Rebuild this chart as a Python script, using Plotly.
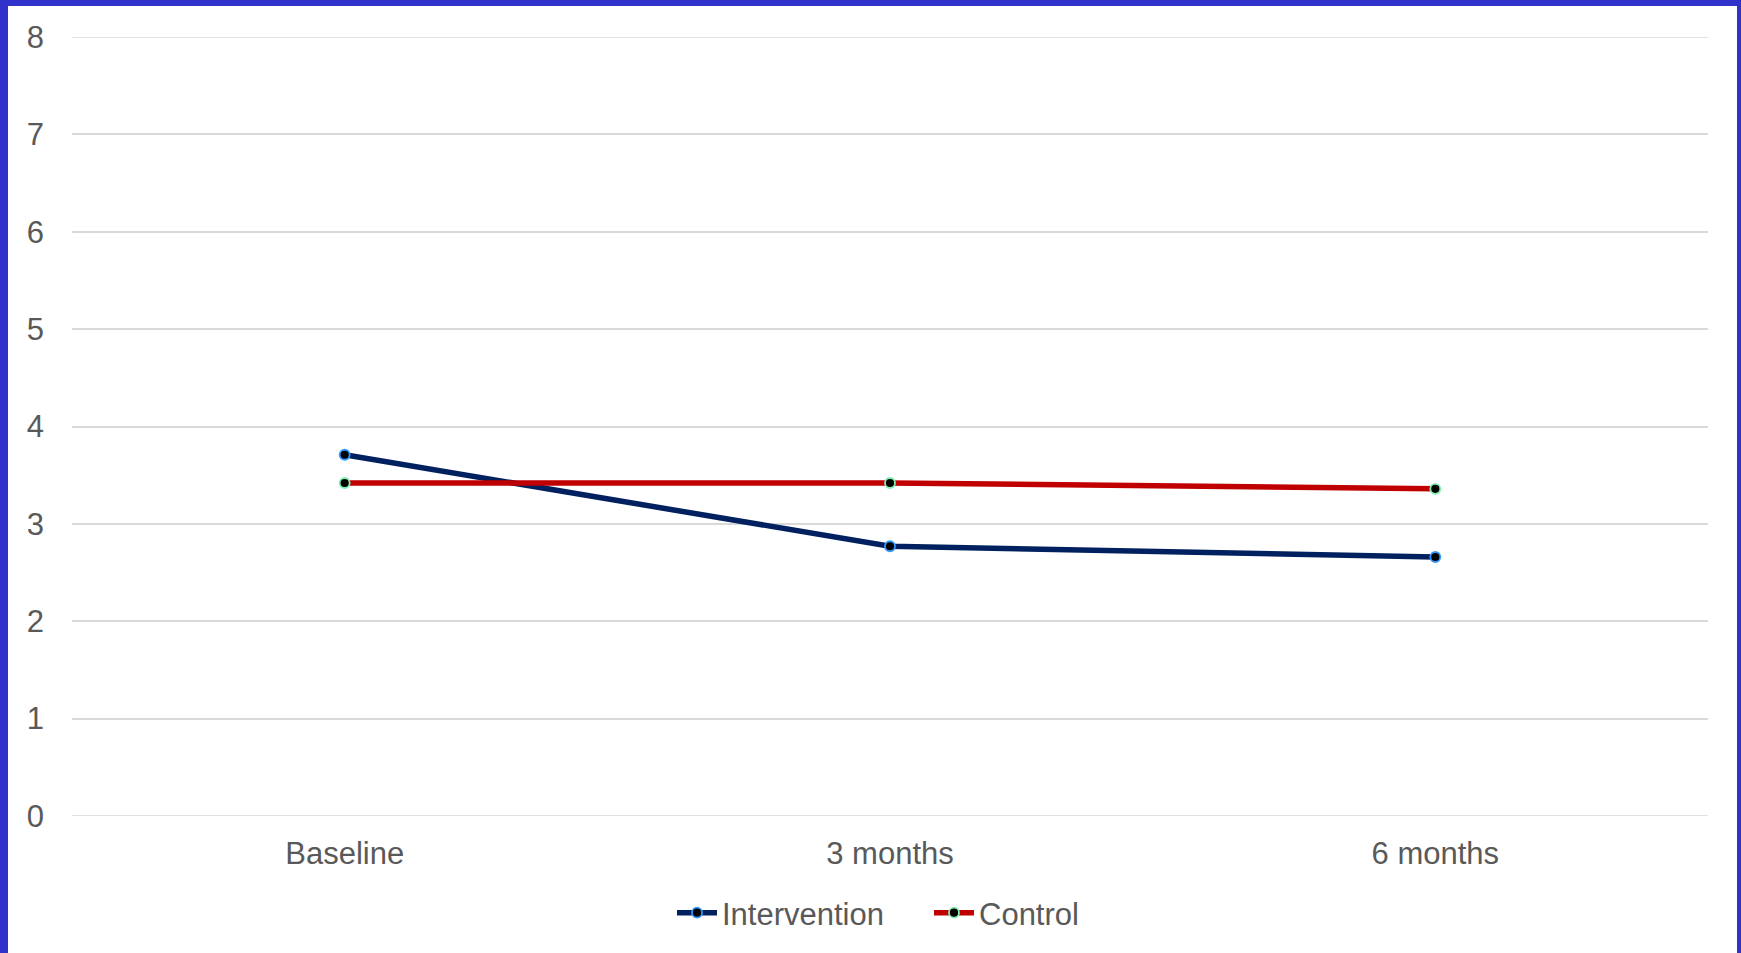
import plotly.graph_objects as go

categories = ["Baseline", "3 months", "6 months"]
intervention = [3.71, 2.77, 2.66]
control = [3.42, 3.42, 3.36]
y_ticks = [0, 1, 2, 3, 4, 5, 6, 7, 8]

W, H = 1741, 953
ML, MR, MT, MB = 72, 33, 37, 137
PW, PH = W - ML - MR, H - MT - MB
BORDER = "#3131CC"
TEXT = "#595959"
GRID = "#D9D9D9"
FONT = "Liberation Sans, Arial, sans-serif"
FS = 31

fig = go.Figure()
fig.add_trace(go.Scatter(
    x=categories, y=intervention, name="Intervention", mode="lines+markers",
    line=dict(color="#002060", width=5.5),
    marker=dict(color="black", size=10, line=dict(color="#3399FF", width=1.8)),
))
fig.add_trace(go.Scatter(
    x=categories, y=control, name="Control", mode="lines+markers",
    line=dict(color="#C00000", width=5.5),
    marker=dict(color="black", size=10, line=dict(color="#80F0B0", width=1.8)),
))

def px_x(v):
    return (v - ML) / PW

def px_y(v):
    return 1 - (v - MT) / PH

shapes = []
for yv in (y_ticks[0], y_ticks[-1]):
    shapes.append(dict(type="line", xref="paper", yref="y", layer="below",
                       x0=0, x1=1, y0=yv, y1=yv, line=dict(color=GRID, width=1.5)))
for x0, y0, x1, y1 in [(0, 0, 8, H), (0, 0, W, 6), (W - 4, 0, W, H)]:
    shapes.append(dict(type="rect", xref="paper", yref="paper", layer="above",
                       x0=px_x(x0), x1=px_x(x1), y0=px_y(y1), y1=px_y(y0),
                       fillcolor=BORDER, line=dict(width=0)))

fig.update_layout(
    width=W, height=H,
    margin=dict(l=ML, r=MR, t=MT, b=MB, autoexpand=False),
    paper_bgcolor="white", plot_bgcolor="white",
    font=dict(family=FONT, size=FS, color=TEXT),
    showlegend=True,
    legend=dict(orientation="h", x=px_x(672), xanchor="left", y=px_y(913), yanchor="middle",
                font=dict(size=FS, color=TEXT), itemwidth=40, entrywidth=202,
                traceorder="normal", bgcolor="rgba(0,0,0,0)"),
    xaxis=dict(type="category", range=[-0.5, 2.5], showgrid=False, showline=False,
               zeroline=False, ticks="", ticklabelstandoff=16,
               tickfont=dict(size=FS, color=TEXT)),
    yaxis=dict(range=[0, 8], tickvals=y_ticks, showgrid=True, gridcolor=GRID,
               gridwidth=1.5, zeroline=False, showline=False, ticks="",
               ticklabelstandoff=27, tickfont=dict(size=FS, color=TEXT)),
    shapes=shapes,
)

fig.write_html("out.html", config={"displayModeBar": False},
               post_script="document.body.style.margin='0';document.body.style.overflow='hidden';")
